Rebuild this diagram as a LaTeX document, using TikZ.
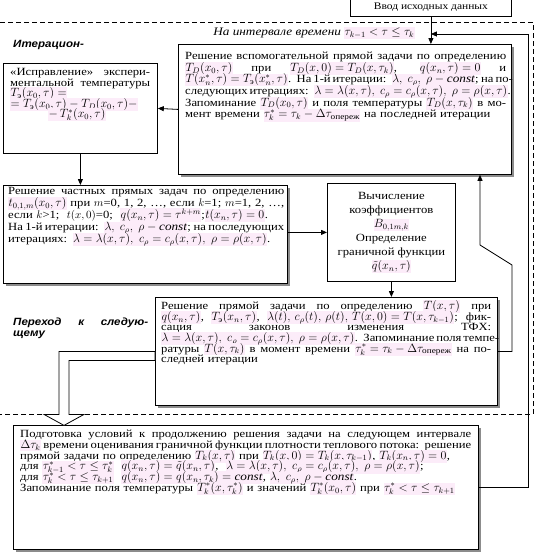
\documentclass[tikz,border=0pt]{standalone}
\usepackage{fontspec}
\usepackage{amsmath}
\setmainfont{Liberation Serif}[FakeStretch=1.15]
\newfontfamily\headfont{Liberation Sans}[FakeStretch=1.1]
\usetikzlibrary{arrows.meta, positioning, shadows}

\definecolor{mathpink}{RGB}{252,236,249}
\setlength{\fboxsep}{0.4pt}
\newcommand{\fm}[1]{{\fontsize{11.5}{10}\selectfont\colorbox{mathpink}{$#1$}}}
\newcommand{\jline}[1]{\leavevmode{\spaceskip=0.3em plus 30em minus 0.12em\relax\hbox to\linewidth{#1}}\\}
\newcommand{\boxfont}[1]{\fontsize{11}{#1}\selectfont\lineskiplimit=-20pt\relax}

\begin{document}
\begin{tikzpicture}[x=1pt, y=-1pt,
    plainbox/.style={rectangle, draw=black, line width=0.8pt, fill=white, inner sep=0pt},
    shadebox/.style={plainbox, general shadow={fill=black!45, shadow xshift=2.5pt, shadow yshift=-2.5pt}},
    boxtext/.style={anchor=north west, inner sep=0pt, align=left, font=\boxfont{#1}},
    boxtext/.default=10.6,
    sidelabel/.style={anchor=north west, inner sep=0pt, align=left,
        font=\headfont\bfseries\itshape\fontsize{10.5}{10.5}\selectfont},
    arrow/.style={-{Triangle[length=6pt, width=5pt]}, line width=0.8pt},
    hollow/.style={draw=black, line width=0.8pt, fill=white},
    frame/.style={line width=0.6pt, dash pattern=on 5pt off 3pt},
]
\useasboundingbox (0,0) rectangle (560,560);

% ---- time-interval frame ----
\draw[frame] (0,22) -| (533,414) -- (0,414);
\node (interval) [inner sep=0pt, font=\fontsize{11.5}{10}\selectfont] at (314,33)
    {\textit{На интервале времени}\ \colorbox{mathpink}{$\tau_{k-1}<\tau\le\tau_k$}};

% ---- boxes ----
\node (inbox) [plainbox, minimum width=161, minimum height=18, anchor=north west,
    font=\fontsize{10}{10}\selectfont] at (350,-2) {Ввод исходных данных};

\node (T1) [shadebox, minimum width=333, minimum height=130, anchor=north west] at (178,44) {};
\node (T1text) [boxtext=11.6, text width=321] at ([xshift=7pt, yshift=-8pt]T1.north west) {%
\jline{Решение вспомогательной прямой задачи по определению}
\jline{\fm{T_D(x_0,\tau)} при \fm{T_D(x,0)=T_D(x,\tau_k)}, \fm{q(x_n,\tau)=0} и}
\jline{\fm{T(x_n^*,\tau)=T_{\text{э}}(x_n^*,\tau)}. На 1-й итерации: \fm{\lambda,\ c_\rho,\ \rho-\textit{const}}; на по-}
\jline{следующих итерациях: \fm{\lambda=\lambda(x,\tau),\ c_\rho=c_\rho(x,\tau),\ \rho=\rho(x,\tau)}.}
\jline{Запоминание \fm{T_D(x_0,\tau)} и поля температуры \fm{T_D(x,\tau_k)} в мо-}
мент времени \fm{\tau_k^*=\tau_k-\Delta\tau_{\text{опереж}}} на последней итерации};

\node (itlab) [sidelabel] at (13,40) {Итерацион-};

\node (fix) [plainbox, minimum width=154, minimum height=90, anchor=north west] at (3,63) {};
\node (fixtext) [boxtext=10.6, text width=140] at ([xshift=7pt, yshift=-5pt]fix.north west) {%
\jline{«Исправление» экспери-}
\jline{ментальной температуры}
\fm{T_{\text{э}}(x_0,\tau)=}\\
\fm{=T_{\text{э}}(x_0,\tau)-T_D(x_0,\tau)-}\\
\hspace*{38pt}\fm{-\,T_k^*(x_0,\tau)}};

\node (part) [shadebox, minimum width=284, minimum height=98, anchor=north west] at (3,185) {};
\node (parttext) [boxtext=12, text width=276] at ([xshift=5pt, yshift=-2pt]part.north west) {%
\jline{Решение частных прямых задач по определению}
\jline{\fm{t_{0,1,m}(x_0,\tau)} при $m$=0, 1, 2, \dots, если $k$=1; $m$=1, 2, \dots,}
если $k$>1;\ \ $t(x,0)$=0;\ \ \fm{q(x_n,\tau)=\tau^{k+m}};\fm{t(x_n,\tau)=0}.\\
\jline{На 1-й итерации: \fm{\lambda,\ c_\rho,\ \rho-\textit{const}}; на последующих}
итерациях: \fm{\lambda=\lambda(x,\tau),\ c_\rho=c_\rho(x,\tau),\ \rho=\rho(x,\tau)}.};

\node (coef) [plainbox, minimum width=128, minimum height=98, anchor=north west, align=center,
    font=\fontsize{11}{14}\selectfont] at (327,183)
    {Вычисление\\коэффициентов\\\fm{B_{0,1m,k}}\\Определение\\граничной функции\\\fm{\tilde q(x_n,\tau)}};

\node (direct) [shadebox, minimum width=342, minimum height=108, anchor=north west] at (155,297) {};
\node (directtext) [boxtext=10.6, text width=330] at ([xshift=6pt, yshift=-3pt]direct.north west) {%
\jline{Решение прямой задачи по определению \fm{T(x,\tau)} при}
\jline{\fm{q(x_n,\tau)}, \fm{T_{\text{э}}(x_n,\tau)}, \fm{\lambda(t),\,c_\rho(t),\,\rho(t),\,T(x,0)=T(x,\tau_{k-1})}; фик-}
\jline{сация законов изменения ТФХ:}
\jline{\fm{\lambda=\lambda(x,\tau),\ c_\rho=c_\rho(x,\tau),\ \rho=\rho(x,\tau)}. Запоминание поля темпе-}
\jline{ратуры \fm{T(x,\tau_k)} в момент времени \fm{\tau_k^*=\tau_k-\Delta\tau_{\text{опереж}}} на по-}
следней итерации};

\node (nextlab) [sidelabel, text width=135] at (13,318) {\jline{Переход к следую-}щему};

\node (prep) [shadebox, minimum width=465, minimum height=124, anchor=north west] at (13,425) {};
\node (preptext) [boxtext=10.7, text width=451] at ([xshift=7pt, yshift=-5pt]prep.north west) {%
\jline{Подготовка условий к продолжению решения задачи на следующем интервале}
\jline{\fm{\Delta\tau_k} времени оценивания граничной функции плотности теплового потока: решение}
прямой задачи по определению \fm{T_k(x,\tau)} при \fm{T_k(x,0)=T_k(x,\tau_{k-1})}, \fm{T_k(x_n,\tau)=0},\\
для \fm{\tau_{k-1}^*<\tau\le\tau_k^*}\ \ \fm{q(x_n,\tau)=\tilde q(x_n,\tau)},\ \ \fm{\lambda=\lambda(x,\tau),\ c_\rho=c_\rho(x,\tau),\ \rho=\rho(x,\tau)};\\
для \fm{\tau_k^*<\tau\le\tau_{k+1}}\ \ \fm{q(x_n,\tau)=q(x_n,\tau_k)=\textit{const}},\ \fm{\lambda,\ c_\rho,\ \rho-\textit{const}}.\\
Запоминание поля температуры \fm{T_k^*(x,\tau_k^*)} и значений \fm{T_k^*(x_0,\tau)} при \fm{\tau_k^*<\tau\le\tau_{k+1}}};

% ---- connectors ----
\coordinate (loopTop) at (528,34);
\coordinate (bendLow) at (512,265);
\coordinate (bendHigh) at (480,245);

\draw[arrow] (inbox.south) -- (inbox.south |- T1.north);
\draw[arrow] (prep.east) -| (loopTop) -- (loopTop -| inbox.south);
\draw[arrow] (T1.west) -- (fix.east);
\draw[arrow] (fix.south) -- (fix.south |- part.north);
\draw[arrow] (coef.west -| part.east) -- (coef.west);
\draw[arrow] (coef.south) -- (coef.south |- direct.north);
\draw[arrow] (direct.east) -| (bendLow) -- (bendHigh) -- (bendHigh |- T1.south);

% hollow arrow to the next interval
\draw[hollow] (direct.west) -- ++(-96,0) -- ++(0,63) -- ++(-15,0) -- ++(20,11)
    -- ++(20,-11) -- ++(-15,0) -- ++(0,-54) -- ++(86,0) -- cycle;

\end{tikzpicture}
\end{document}
